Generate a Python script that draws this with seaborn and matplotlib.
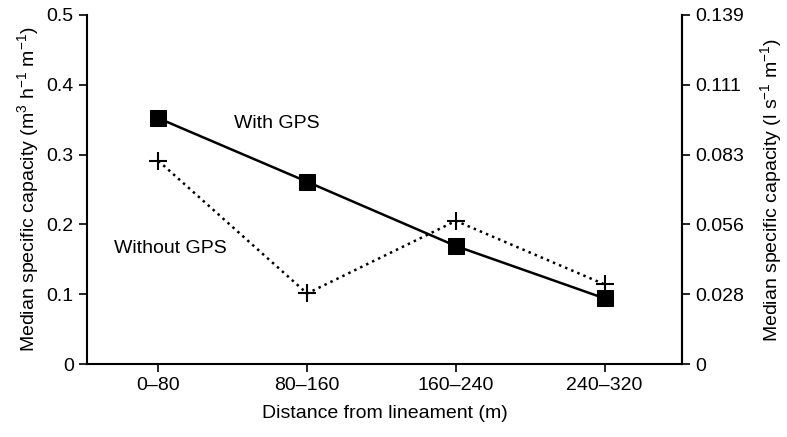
import pandas as pd
import matplotlib
matplotlib.use("Agg")
import matplotlib.pyplot as plt
import seaborn as sns

# distance classes and median specific capacity (m3 h-1 m-1)
distance = ["0–80", "80–160", "160–240", "240–320"]
with_gps = [0.352, 0.261, 0.169, 0.094]
without_gps = [0.291, 0.101, 0.205, 0.114]

# right axis tick labels (l s-1 m-1), same positions as left ticks
left_ticks = [0, 0.1, 0.2, 0.3, 0.4, 0.5]
right_labels = ["0", "0.028", "0.056", "0.083", "0.111", "0.139"]

df = pd.DataFrame({
    "pos": range(len(distance)),
    "with": with_gps,
    "without": without_gps,
})

sns.set_style("ticks")
plt.rcParams["font.family"] = ["Liberation Sans", "DejaVu Sans"]
plt.rcParams["mathtext.default"] = "regular"
plt.rcParams["font.size"] = 14
plt.rcParams["text.color"] = "black"
plt.rcParams["axes.labelcolor"] = "black"
plt.rcParams["axes.edgecolor"] = "black"

fig = plt.figure(figsize=(7.87, 4.37), dpi=100)
ax = fig.add_axes([0.1105, 0.167, 0.756, 0.799])

sns.lineplot(data=df, x="pos", y="with", ax=ax, color="black", linewidth=1.8,
             marker="s", markersize=11, markeredgecolor="black")
sns.lineplot(data=df, x="pos", y="without", ax=ax, color="black", linewidth=1.8,
             linestyle=":", marker="+", markersize=13, markeredgewidth=1.5,
             markeredgecolor="black")

ax.text(0.51, 0.345, "With GPS", va="center", ha="left", fontsize=14, color="black")
ax.text(-0.30, 0.166, "Without GPS", va="center", ha="left", fontsize=14, color="black")

ax.set_xlim(-0.48, 3.52)
ax.set_ylim(0, 0.5)
ax.set_xticks(range(len(distance)))
ax.set_xticklabels(distance)
ax.set_yticks(left_ticks)
ax.set_yticklabels(["0", "0.1", "0.2", "0.3", "0.4", "0.5"])
ax.set_xlabel("Distance from lineament (m)", labelpad=8)
ax.set_ylabel("Median specific capacity (m$^{3}$ h$^{−1}$ m$^{−1}$)")

ax2 = ax.twinx()
ax2.set_ylim(0, 0.5)
ax2.set_yticks(left_ticks)
ax2.set_yticklabels(right_labels)
ax2.set_ylabel("Median specific capacity (l s$^{−1}$ m$^{−1}$)", labelpad=10)

for a in (ax, ax2):
    a.spines["top"].set_visible(False)
    for s in a.spines.values():
        s.set_linewidth(1.5)
        s.set_color("black")
    a.tick_params(width=1.2, length=6, labelsize=14, colors="black")
ax2.spines["left"].set_visible(False)
ax2.spines["bottom"].set_visible(False)

fig.savefig("out.png", dpi=100)
